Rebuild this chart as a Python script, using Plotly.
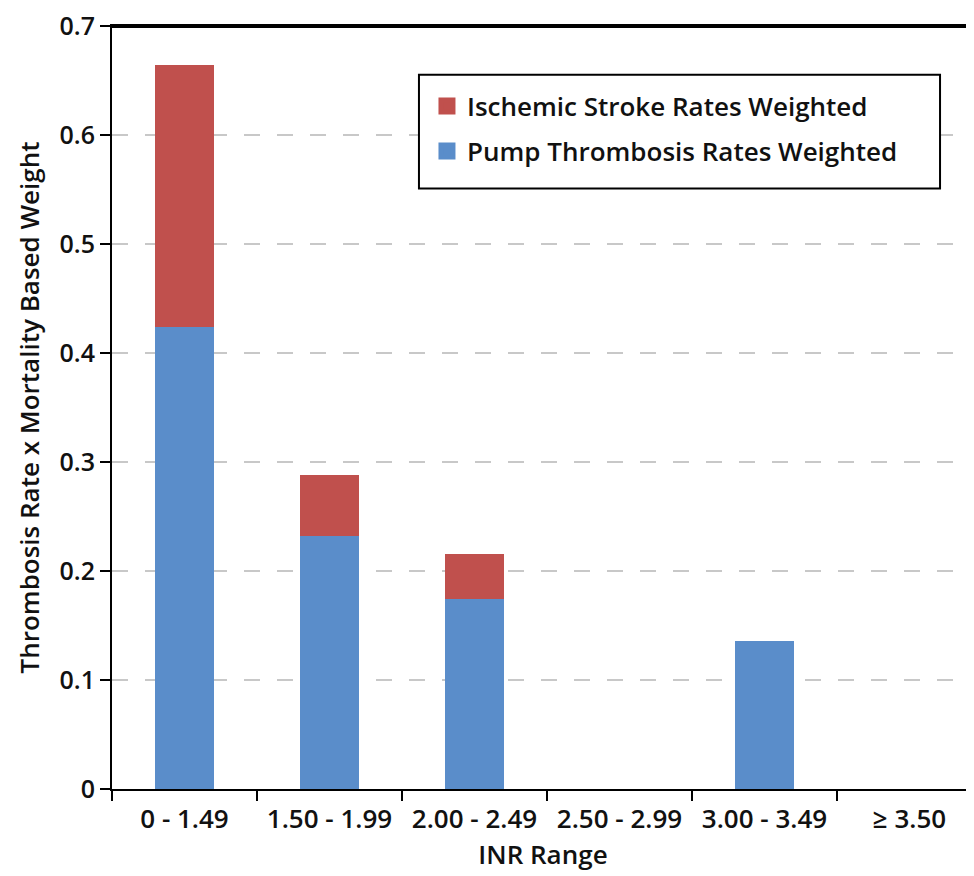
import plotly.graph_objects as go

categories = ["0 - 1.49", "1.50 - 1.99", "2.00 - 2.49", "2.50 - 2.99", "3.00 - 3.49", "≥ 3.50"]
pump_thrombosis = [0.4235, 0.2318, 0.1743, 0.0, 0.136, 0.0]
ischemic_stroke = [0.2409, 0.0566, 0.0411, 0.0, 0.0, 0.0]
y_ticks = [0, 0.1, 0.2, 0.3, 0.4, 0.5, 0.6, 0.7]
y_tick_text = ["0", "0.1", "0.2", "0.3", "0.4", "0.5", "0.6", "0.7"]

FONT = "Open Sans"
BLUE = "#5A8DCA"
RED = "#C0504D"

fig = go.Figure()
fig.add_trace(go.Bar(x=categories, y=pump_thrombosis, name="Pump Thrombosis Rates Weighted",
                     marker=dict(color=BLUE, line=dict(width=0)), showlegend=False))
fig.add_trace(go.Bar(x=categories, y=ischemic_stroke, name="Ischemic Stroke Rates Weighted",
                     marker=dict(color=RED, line=dict(width=0)), showlegend=False))
# legend entries (larger swatches)
fig.add_trace(go.Bar(x=[None], y=[None], name="Ischemic Stroke Rates Weighted",
                     marker=dict(color=RED, line=dict(color=RED, width=10)),
                     legendgroup="a", legendrank=1, hoverinfo="skip"))
fig.add_trace(go.Bar(x=[None], y=[None], name="Pump Thrombosis Rates Weighted",
                     marker=dict(color=BLUE, line=dict(color=BLUE, width=10)),
                     legendgroup="b", legendrank=2, hoverinfo="skip"))

fig.update_layout(
    width=966, height=868,
    barmode="stack", bargap=0.59,
    plot_bgcolor="white", paper_bgcolor="white",
    margin=dict(l=104, r=0, t=16, b=87),
    font=dict(family=FONT, size=26, color="#111111", weight=600),
    legend=dict(x=0.3654, y=0.9257, xanchor="left", yanchor="top",
                traceorder="grouped", borderwidth=0,
                bgcolor="rgba(0,0,0,0)", font=dict(size=26, weight=600),
                itemwidth=30, tracegroupgap=8),
    shapes=[dict(type="rect", xref="paper", yref="paper",
                 x0=0.3561, x1=0.9606, y0=0.7870, y1=0.9360,
                 line=dict(color="black", width=2), fillcolor="white", layer="above"),
            dict(type="line", xref="paper", yref="paper", x0=0, x1=1, y0=0.999, y1=0.999,
                 line=dict(color="black", width=2.5), layer="above")],
    showlegend=True,
)
fig.update_xaxes(
    type="category", range=[-0.5, 5.445],
    showline=True, linecolor="black", linewidth=2, mirror=True,
    ticks="outside", tickson="boundaries", ticklen=10, tickwidth=2, tickcolor="black",
    tickfont=dict(size=26, weight=600), ticklabelstandoff=6,
    title=dict(text="INR Range", font=dict(size=26, weight=600), standoff=11),
    showgrid=False,
)
fig.update_yaxes(
    range=[0, 0.7], tickvals=y_ticks, ticktext=y_tick_text,
    showline=True, linecolor="black", linewidth=2,
    ticks="outside", ticklen=10, tickwidth=2, tickcolor="black",
    tickfont=dict(size=25, weight=600), ticklabeloverflow="allow",
    showgrid=True, gridcolor="#C8C8C8", gridwidth=1.5, griddash="16px,17px",
    zeroline=False,
    title=dict(text="Thrombosis Rate x Mortality Based Weight", font=dict(size=26, weight=600), standoff=12),
)

fig.write_html("out.html")
